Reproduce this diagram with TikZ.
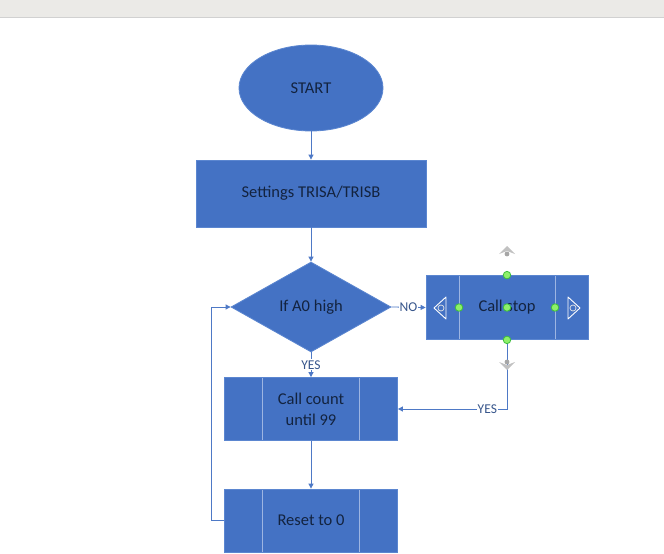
\documentclass[tikz,border=0pt]{standalone}
\usepackage{fontspec}
\setmainfont{Carlito}
\usetikzlibrary{shapes.geometric,arrows.meta,calc}
\definecolor{boxfill}{HTML}{4472C4}
\definecolor{boxedge}{HTML}{5B86D0}
\definecolor{innerl}{HTML}{9DB5E2}
\definecolor{txt}{HTML}{13233F}
\definecolor{conn}{HTML}{4E79C6}
\definecolor{barc}{HTML}{EBEAE7}
\definecolor{hgreen}{HTML}{8EF06A}
\definecolor{hgreenb}{HTML}{3DBE3D}
\definecolor{hgrey}{HTML}{A6A6A6}
\begin{document}
\begin{tikzpicture}[x=1pt,y=-1pt,
  every node/.style={font=\fontsize{16.5}{21}\selectfont, text=txt},
  shapebox/.style={fill=boxfill, draw=boxedge, line width=0.8pt, inner sep=0pt, align=center},
  predef/.style={shapebox, path picture={
     \draw[innerl, line width=0.8pt] ([xshift=#1]path picture bounding box.north west) -- ([xshift=#1]path picture bounding box.south west);
     \draw[innerl, line width=0.8pt] ([xshift=-#1]path picture bounding box.north east) -- ([xshift=-#1]path picture bounding box.south east);}},
  conline/.style={draw=conn, line width=0.8pt, -{Triangle[width=5pt,length=5pt]}},
  lbl/.style={font=\fontsize{13.5}{15}\selectfont, text=conn!70!black, fill=white, inner sep=1pt},
  handle/.style={circle, fill=hgreen, draw=hgreenb, line width=0.8pt, minimum size=7.5pt, inner sep=0pt}
]
\useasboundingbox (0,0) rectangle (664,554);
\fill[white] (0,0) rectangle (664,554);
\fill[barc] (0,0) rectangle (664,17);
\draw[black!18, line width=0.6pt] (0,17) -- (664,17);

\node[shapebox, ellipse, minimum width=144pt, minimum height=86pt] (start) at (311,88) {START};
\node[shapebox, rectangle, minimum width=230pt, minimum height=67pt] (set) at (311,193.5) {Settings TRISA/TRISB};
\node[shapebox, diamond, minimum width=160pt, minimum height=90pt] (dec) at (311,307) {If A0 high};
\node[predef=33pt, rectangle, minimum width=162pt, minimum height=64pt] (stop) at (507,307.5) {Call stop};
\node[predef=38pt, rectangle, minimum width=173pt, minimum height=63pt] (count) at (311,409) {Call count\\until 99};
\node[predef=38pt, rectangle, minimum width=173pt, minimum height=63pt] (reset) at (311,520.5) {Reset to 0};

\draw[conline] (start) -- (set);
\draw[conline] (set) -- (dec);
\draw[conline] (dec.east) -- node[lbl] (no) {NO} (stop.west);
\draw[conline] (dec.south) -- node[lbl] (yes1) {YES} (count.north);
\draw[conline] (stop.south) |- node[lbl, pos=0.59] (yes2) {YES} (count.east);
\draw[conline] (count) -- (reset);
\draw[conline] (reset.west) -- ++(-13,0) |- (dec.west);

% selection handles
\coordinate (hu) at (507,250);
\coordinate (hd) at (507,366);
\fill[hgrey!70] ($(hu)+(-8,4)$) -- ($(hu)+(0,-4)$) -- ($(hu)+(8,4)$) -- ($(hu)+(0,1)$) -- cycle;
\fill[hgrey] ($(hu)+(0,4)$) circle (2.4pt);
\fill[hgrey!70] ($(hd)+(-8,-4)$) -- ($(hd)+(0,4)$) -- ($(hd)+(8,-4)$) -- ($(hd)+(0,-1)$) -- cycle;
\fill[hgrey] ($(hd)+(0,-4)$) circle (2.4pt);
\coordinate (hl) at (441,308);
\coordinate (hr) at (573,308);
\draw[white, line width=0.9pt, line join=round] ($(hl)+(5,-11)$) -- ($(hl)+(-7,0)$) -- ($(hl)+(5,11)$) -- cycle;
\draw[white!80!gray, line width=0.7pt] (hl) circle (3pt);
\draw[white, line width=0.9pt, line join=round] ($(hr)+(-5,-11)$) -- ($(hr)+(7,0)$) -- ($(hr)+(-5,11)$) -- cycle;
\draw[white!80!gray, line width=0.7pt] (hr) circle (3pt);
\node[handle] (g1) at (stop.north) {};
\node[handle] (g2) at (stop.south) {};
\node[handle] (g3) at (stop.center) {};
\node[handle] (g4) at (459,307.5) {};
\node[handle] (g5) at (555,307.5) {};
\end{tikzpicture}
\end{document}
